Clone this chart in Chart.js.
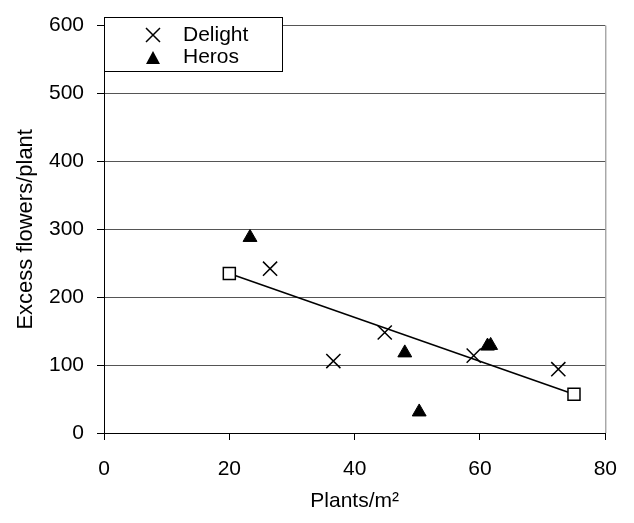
<!DOCTYPE html>
<html>
<head>
<meta charset="utf-8">
<script src="https://cdn.jsdelivr.net/npm/chart.js@4/dist/chart.umd.min.js"></script>
<style>
    body { margin: 0; background: #fff; }
    canvas { display: block; }
</style>
</head>
<body>
<canvas id="chart" width="634" height="523"></canvas>
<script>
const delightX = [26.5, 36.6, 44.8, 59, 72.5];
const delightY = [242, 106, 148, 114, 94];
const herosX = [23.3, 48, 50.3, 61.2, 61.7];
const herosY = [288, 118, 31, 128, 129];
const fitX = [20, 75];
const fitY = [235, 57];
const legendLabels = ["Delight", "Heros"];
const xTitle = "Plants/m²";
const yTitle = "Excess flowers/plant";

const font = "'Liberation Sans', Arial, sans-serif";

function toPoints(xs, ys) {
    return xs.map((x, i) => ({ x, y: ys[i] }));
}

// plot frame (right side) and the boxed legend inside the plot
const framePlugin = {
    id: "frame",
    afterDraw(chart) {
        const ctx = chart.ctx;
        const area = chart.chartArea;
        ctx.save();
        ctx.strokeStyle = "#808080";
        ctx.lineWidth = 1;
        ctx.beginPath();
        ctx.moveTo(area.right + 0.5, area.top);
        ctx.lineTo(area.right + 0.5, area.bottom);
        ctx.stroke();

        // legend box
        ctx.fillStyle = "#fff";
        ctx.fillRect(104, 17, 178, 54);
        ctx.strokeStyle = "#000";
        ctx.strokeRect(104.5, 17.5, 178, 54);

        // cross marker
        ctx.lineWidth = 1.5;
        ctx.beginPath();
        ctx.moveTo(146, 28);
        ctx.lineTo(160, 42);
        ctx.moveTo(160, 28);
        ctx.lineTo(146, 42);
        ctx.stroke();

        // triangle marker
        ctx.fillStyle = "#000";
        ctx.beginPath();
        ctx.moveTo(153, 51);
        ctx.lineTo(160, 64);
        ctx.lineTo(146, 64);
        ctx.closePath();
        ctx.fill();

        ctx.font = "21px " + font;
        ctx.textBaseline = "middle";
        ctx.fillText(legendLabels[0], 183, 35);
        ctx.fillText(legendLabels[1], 183, 57);
        ctx.restore();
    },
};

new Chart(document.getElementById("chart"), {
    type: "scatter",
    data: {
        datasets: [
            {
                label: legendLabels[0],
                data: toPoints(delightX, delightY),
                pointStyle: "crossRot",
                pointRadius: 10,
                borderColor: "#000",
                borderWidth: 1.5,
            },
            {
                label: legendLabels[1],
                data: toPoints(herosX, herosY),
                pointStyle: "triangle",
                pointRadius: 8,
                backgroundColor: "#000",
                borderColor: "#000",
                borderWidth: 1,
            },
            {
                label: "fit",
                data: toPoints(fitX, fitY),
                showLine: true,
                borderColor: "#000",
                borderWidth: 1.5,
                pointStyle: "rect",
                pointRadius: 8.5,
                pointBackgroundColor: "#fff",
                pointBorderColor: "#000",
                pointBorderWidth: 1.5,
            },
        ],
    },
    options: {
        responsive: false,
        animation: false,
        layout: {
            padding: { left: 0, top: 19, right: 25, bottom: 0 },
        },
        plugins: {
            legend: { display: false },
            tooltip: { enabled: false },
        },
        scales: {
            x: {
                type: "linear",
                min: 0,
                max: 80,
                afterFit(scale) {
                    scale.height = 90;
                },
                ticks: {
                    stepSize: 20,
                    color: "#000",
                    font: { family: font, size: 21 },
                    padding: 17,
                    maxRotation: 0,
                },
                grid: {
                    drawOnChartArea: false,
                    tickLength: 7,
                    color: "#000",
                },
                border: { color: "#000", width: 1 },
                title: {
                    display: true,
                    text: xTitle,
                    color: "#000",
                    font: { family: font, size: 21 },
                    padding: { top: 0, bottom: 9 },
                },
            },
            y: {
                min: 0,
                max: 600,
                afterFit(scale) {
                    scale.width = 104;
                },
                ticks: {
                    stepSize: 100,
                    color: "#000",
                    font: { family: font, size: 21 },
                    padding: 13,
                },
                grid: {
                    color: "#555",
                    tickColor: "#000",
                    tickLength: 7,
                },
                border: { color: "#000", width: 1 },
                title: {
                    display: true,
                    text: yTitle,
                    color: "#000",
                    font: { family: font, size: 22 },
                    padding: { top: 13, bottom: 0 },
                },
            },
        },
    },
    plugins: [framePlugin],
});
</script>
</body>
</html>
